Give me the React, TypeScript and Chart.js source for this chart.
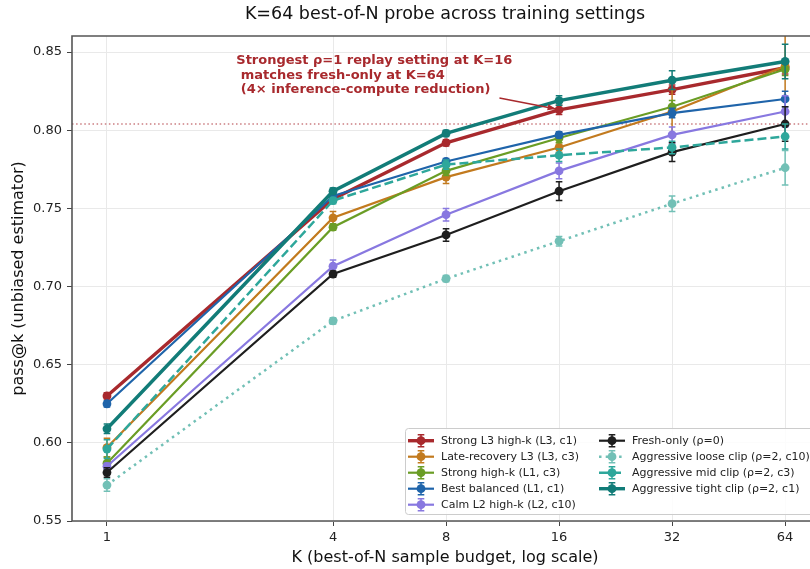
import { useEffect, useRef } from "react";
import { Chart, registerables } from "chart.js";

Chart.register(...registerables);

// ---------- data ----------
const K_VALUES = [1, 4, 8, 16, 32, 64];
const X_TICKS = [1, 4, 8, 16, 32, 64];
const Y_TICKS = [0.55, 0.6, 0.65, 0.7, 0.75, 0.8, 0.85];

const STRONG_L3 = [0.630, 0.756, 0.792, 0.813, 0.826, 0.840];
const STRONG_L3_ERR = [0.002, 0.002, 0.002, 0.003, 0.003, 0.004];
const LATE_RECOVERY = [0.597, 0.744, 0.770, 0.789, 0.812, 0.841];
const LATE_RECOVERY_ERR = [0.006, 0.004, 0.004, 0.003, 0.014, 0.022];
const STRONG_HIGHK = [0.587, 0.738, 0.774, 0.795, 0.815, 0.839];
const STRONG_HIGHK_ERR = [0.004, 0.002, 0.003, 0.003, 0.004, 0.004];
const BEST_BALANCED = [0.625, 0.758, 0.780, 0.797, 0.811, 0.820];
const BEST_BALANCED_ERR = [0.002, 0.002, 0.002, 0.002, 0.003, 0.005];
const CALM_L2 = [0.585, 0.713, 0.746, 0.774, 0.797, 0.812];
const CALM_L2_ERR = [0.002, 0.004, 0.004, 0.005, 0.005, 0.010];
const FRESH_ONLY = [0.581, 0.708, 0.733, 0.761, 0.786, 0.804];
const FRESH_ONLY_ERR = [0.003, 0.002, 0.004, 0.006, 0.006, 0.011];
const LOOSE_CLIP = [0.573, 0.678, 0.705, 0.729, 0.753, 0.776];
const LOOSE_CLIP_ERR = [0.004, 0.002, 0.002, 0.003, 0.005, 0.011];
const MID_CLIP = [0.596, 0.755, 0.778, 0.784, 0.789, 0.796];
const MID_CLIP_ERR = [0.006, 0.002, 0.003, 0.004, 0.004, 0.008];
const TIGHT_CLIP = [0.609, 0.761, 0.798, 0.819, 0.832, 0.844];
const TIGHT_CLIP_ERR = [0.003, 0.002, 0.002, 0.003, 0.006, 0.011];

const REFERENCE_LEVEL = FRESH_ONLY[5];

const TITLE = "K=64 best-of-N probe across training settings";
const X_LABEL = "K (best-of-N sample budget, log scale)";
const Y_LABEL = "pass@k (unbiased estimator)";
const ANNOTATION_LINES = [
  "Strongest \u03c1=1 replay setting at K=16",
  " matches fresh-only at K=64",
  " (4\u00d7 inference-compute reduction)",
];
const ANNOTATION_TEXT_K = 2.21;
const ANNOTATION_TEXT_Y = 0.8444;
const ARROW_FROM = { k: 11.1, y: 0.8207 };
const ARROW_TO = { k: 16, y: STRONG_L3[3] };

// ---------- styles ----------
type Series = {
  label: string;
  values: number[];
  err: number[];
  color: string;
  width: number;
  dash: number[];
};

const SERIES: Series[] = [
  { label: "Strong L3 high-k (L3, c1)", values: STRONG_L3, err: STRONG_L3_ERR, color: "#a8292d", width: 3.4, dash: [] },
  { label: "Late-recovery L3 (L3, c3)", values: LATE_RECOVERY, err: LATE_RECOVERY_ERR, color: "#c27a1e", width: 2.2, dash: [] },
  { label: "Strong high-k (L1, c3)", values: STRONG_HIGHK, err: STRONG_HIGHK_ERR, color: "#6a9d25", width: 2.2, dash: [] },
  { label: "Best balanced (L1, c1)", values: BEST_BALANCED, err: BEST_BALANCED_ERR, color: "#1f64aa", width: 2.2, dash: [] },
  { label: "Calm L2 high-k (L2, c10)", values: CALM_L2, err: CALM_L2_ERR, color: "#8878e0", width: 2.2, dash: [] },
  { label: "Fresh-only (\u03c1=0)", values: FRESH_ONLY, err: FRESH_ONLY_ERR, color: "#1e1e1e", width: 2.2, dash: [] },
  { label: "Aggressive loose clip (\u03c1=2, c10)", values: LOOSE_CLIP, err: LOOSE_CLIP_ERR, color: "#72c0b6", width: 2.5, dash: [2.5, 4.2] },
  { label: "Aggressive mid clip (\u03c1=2, c3)", values: MID_CLIP, err: MID_CLIP_ERR, color: "#2ea79b", width: 2.5, dash: [9, 4] },
  { label: "Aggressive tight clip (\u03c1=2, c1)", values: TIGHT_CLIP, err: TIGHT_CLIP_ERR, color: "#127c78", width: 3.4, dash: [] },
];

const FONT = '"DejaVu Sans", sans-serif';
const CANVAS_W = 830;
const CANVAS_H = 569;
const CAP = 3.3;
const MARKER_R = 4.4;

function drawErrorBar(ctx: CanvasRenderingContext2D, x: number, y1: number, y2: number, color: string) {
  ctx.strokeStyle = color;
  ctx.lineWidth = 1.5;
  ctx.setLineDash([]);
  ctx.beginPath();
  ctx.moveTo(x, y1);
  ctx.lineTo(x, y2);
  ctx.moveTo(x - CAP, y1);
  ctx.lineTo(x + CAP, y1);
  ctx.moveTo(x - CAP, y2);
  ctx.lineTo(x + CAP, y2);
  ctx.stroke();
}

const customPlugin = {
  id: "customDecor",
  beforeDatasetsDraw(chart: any) {
    const { ctx, chartArea: a, scales } = chart;
    const y = scales.y.getPixelForValue(REFERENCE_LEVEL);
    ctx.save();
    ctx.strokeStyle = "rgba(185, 80, 85, 0.75)";
    ctx.lineWidth = 1.3;
    ctx.setLineDash([1.5, 2.6]);
    ctx.beginPath();
    ctx.moveTo(a.left, y);
    ctx.lineTo(a.right, y);
    ctx.stroke();
    ctx.restore();
  },
  beforeDatasetDraw(chart: any, args: any) {
    const { ctx, chartArea: a, scales } = chart;
    const s = SERIES[args.index];
    ctx.save();
    ctx.beginPath();
    ctx.rect(a.left, a.top, a.right - a.left, a.bottom - a.top);
    ctx.clip();
    K_VALUES.forEach((k, j) => {
      const x = scales.x.getPixelForValue(k);
      const y1 = scales.y.getPixelForValue(s.values[j] + s.err[j]);
      const y2 = scales.y.getPixelForValue(s.values[j] - s.err[j]);
      drawErrorBar(ctx, x, y1, y2, s.color);
    });
    ctx.restore();
  },
  afterDatasetsDraw(chart: any) {
    const { ctx, chartArea: a, scales } = chart;
    ctx.save();
    // annotation arrow
    const ax1 = scales.x.getPixelForValue(ARROW_FROM.k);
    const ay1 = scales.y.getPixelForValue(ARROW_FROM.y);
    const ax2 = scales.x.getPixelForValue(ARROW_TO.k) - 3;
    const ay2 = scales.y.getPixelForValue(ARROW_TO.y) - 1;
    ctx.strokeStyle = "#a8292d";
    ctx.fillStyle = "#a8292d";
    ctx.lineWidth = 1.5;
    ctx.beginPath();
    ctx.moveTo(ax1, ay1);
    ctx.lineTo(ax2, ay2);
    ctx.stroke();
    const ang = Math.atan2(ay2 - ay1, ax2 - ax1);
    ctx.beginPath();
    ctx.moveTo(ax2, ay2);
    ctx.lineTo(ax2 - 9 * Math.cos(ang - 0.35), ay2 - 9 * Math.sin(ang - 0.35));
    ctx.lineTo(ax2 - 9 * Math.cos(ang + 0.35), ay2 - 9 * Math.sin(ang + 0.35));
    ctx.closePath();
    ctx.fill();
    // annotation text
    const tx = scales.x.getPixelForValue(ANNOTATION_TEXT_K);
    const ty = scales.y.getPixelForValue(ANNOTATION_TEXT_Y);
    ctx.font = `bold 13px ${FONT}`;
    ctx.textAlign = "left";
    ctx.textBaseline = "middle";
    ANNOTATION_LINES.forEach((line, i) => ctx.fillText(line, tx, ty + i * 14.6));

    // spines
    ctx.strokeStyle = "#555";
    ctx.lineWidth = 1.6;
    ctx.beginPath();
    ctx.moveTo(a.left, a.bottom);
    ctx.lineTo(a.left, a.top);
    ctx.lineTo(a.right, a.top);
    ctx.lineTo(a.right, a.bottom);
    ctx.lineTo(a.left, a.bottom);
    ctx.stroke();

    // legend
    const lx = 405, ly = 428, lw = 412, lh = 86;
    ctx.fillStyle = "rgba(255,255,255,0.85)";
    ctx.strokeStyle = "#cccccc";
    ctx.lineWidth = 1;
    ctx.beginPath();
    ctx.roundRect(lx + 0.5, ly + 0.5, lw, lh, 3);
    ctx.fill();
    ctx.stroke();
    ctx.font = `11px ${FONT}`;
    ctx.textBaseline = "middle";
    ctx.textAlign = "left";
    SERIES.forEach((s, i) => {
      const col = i < 5 ? 0 : 1;
      const row = i < 5 ? i : i - 5;
      const hx0 = col === 0 ? 408 : 599;
      const hx1 = hx0 + 26;
      const cy = 440.7 + row * 16;
      const mx = (hx0 + hx1) / 2;
      ctx.strokeStyle = s.color;
      ctx.lineWidth = s.width;
      ctx.setLineDash(s.dash);
      ctx.beginPath();
      ctx.moveTo(hx0, cy);
      ctx.lineTo(hx1, cy);
      ctx.stroke();
      ctx.setLineDash([]);
      drawErrorBar(ctx, mx, cy - 6, cy + 6, s.color);
      ctx.fillStyle = s.color;
      ctx.beginPath();
      ctx.arc(mx, cy, MARKER_R, 0, Math.PI * 2);
      ctx.fill();
      ctx.fillStyle = "#222";
      ctx.fillText(s.label, hx1 + 7, cy);
    });

    // title
    ctx.fillStyle = "#111";
    ctx.textAlign = "center";
    ctx.textBaseline = "middle";
    ctx.font = `17.5px ${FONT}`;
    ctx.fillText(TITLE, (a.left + a.right) / 2, 14);
    // axis titles
    ctx.font = `16px ${FONT}`;
    ctx.fillText(X_LABEL, (a.left + a.right) / 2, 558);
    ctx.save();
    ctx.translate(19, (a.top + a.bottom) / 2);
    ctx.rotate(-Math.PI / 2);
    ctx.fillText(Y_LABEL, 0, 0);
    ctx.restore();
    ctx.restore();
  },
};

export default function App() {
  const ref = useRef<HTMLCanvasElement | null>(null);
  useEffect(() => {
    if (!ref.current) return;
    const datasets = SERIES.map((s, i) => ({
      label: s.label,
      data: K_VALUES.map((k, j) => ({ x: k, y: s.values[j] })),
      borderColor: s.color,
      backgroundColor: s.color,
      pointBackgroundColor: s.color,
      pointBorderColor: s.color,
      borderWidth: s.width,
      borderDash: s.dash,
      pointRadius: MARKER_R,
      pointHoverRadius: MARKER_R,
      pointBorderWidth: 0,
      tension: 0,
      order: SERIES.length - i,
    }));
    const chart = new Chart(ref.current, {
      type: "line",
      data: { datasets },
      plugins: [customPlugin],
      options: {
        responsive: false,
        animation: false,
        devicePixelRatio: 1,
        layout: { padding: { top: 36, right: CANVAS_W - 818, left: 0, bottom: 0 } },
        plugins: { legend: { display: false }, tooltip: { enabled: false }, title: { display: false } },
        scales: {
          x: {
            type: "logarithmic",
            min: 0.807,
            max: 78.3,
            afterBuildTicks: (axis: any) => {
              axis.ticks = X_TICKS.map((v) => ({ value: v }));
            },
            afterFit: (scale: any) => {
              scale.height = 48;
            },
            ticks: {
              callback: (v: any) => String(v),
              autoSkip: false,
              maxRotation: 0,
              font: { family: FONT, size: 13 },
              color: "#222",
              padding: 4,
            },
            grid: { color: "#e9e9e9", lineWidth: 1, tickLength: 5, tickColor: "#444" },
            border: { display: false },
          },
          y: {
            type: "linear",
            min: 0.55,
            max: 0.8603,
            afterBuildTicks: (axis: any) => {
              axis.ticks = Y_TICKS.map((v) => ({ value: v }));
            },
            afterFit: (scale: any) => {
              scale.width = 72;
            },
            ticks: {
              callback: (v: any) => Number(v).toFixed(2),
              font: { family: FONT, size: 13 },
              color: "#222",
              padding: 5,
            },
            grid: { color: "#e9e9e9", lineWidth: 1, tickLength: 5, tickColor: "#444" },
            border: { display: false },
          },
        },
      } as any,
    });
    return () => chart.destroy();
  }, []);
  return (
    <div style={{ position: "fixed", left: 0, top: 0, width: 810, height: 569, overflow: "hidden", background: "#fff" }}>
      <canvas ref={ref} width={CANVAS_W} height={CANVAS_H} style={{ display: "block", width: CANVAS_W, height: CANVAS_H }} />
    </div>
  );
}
